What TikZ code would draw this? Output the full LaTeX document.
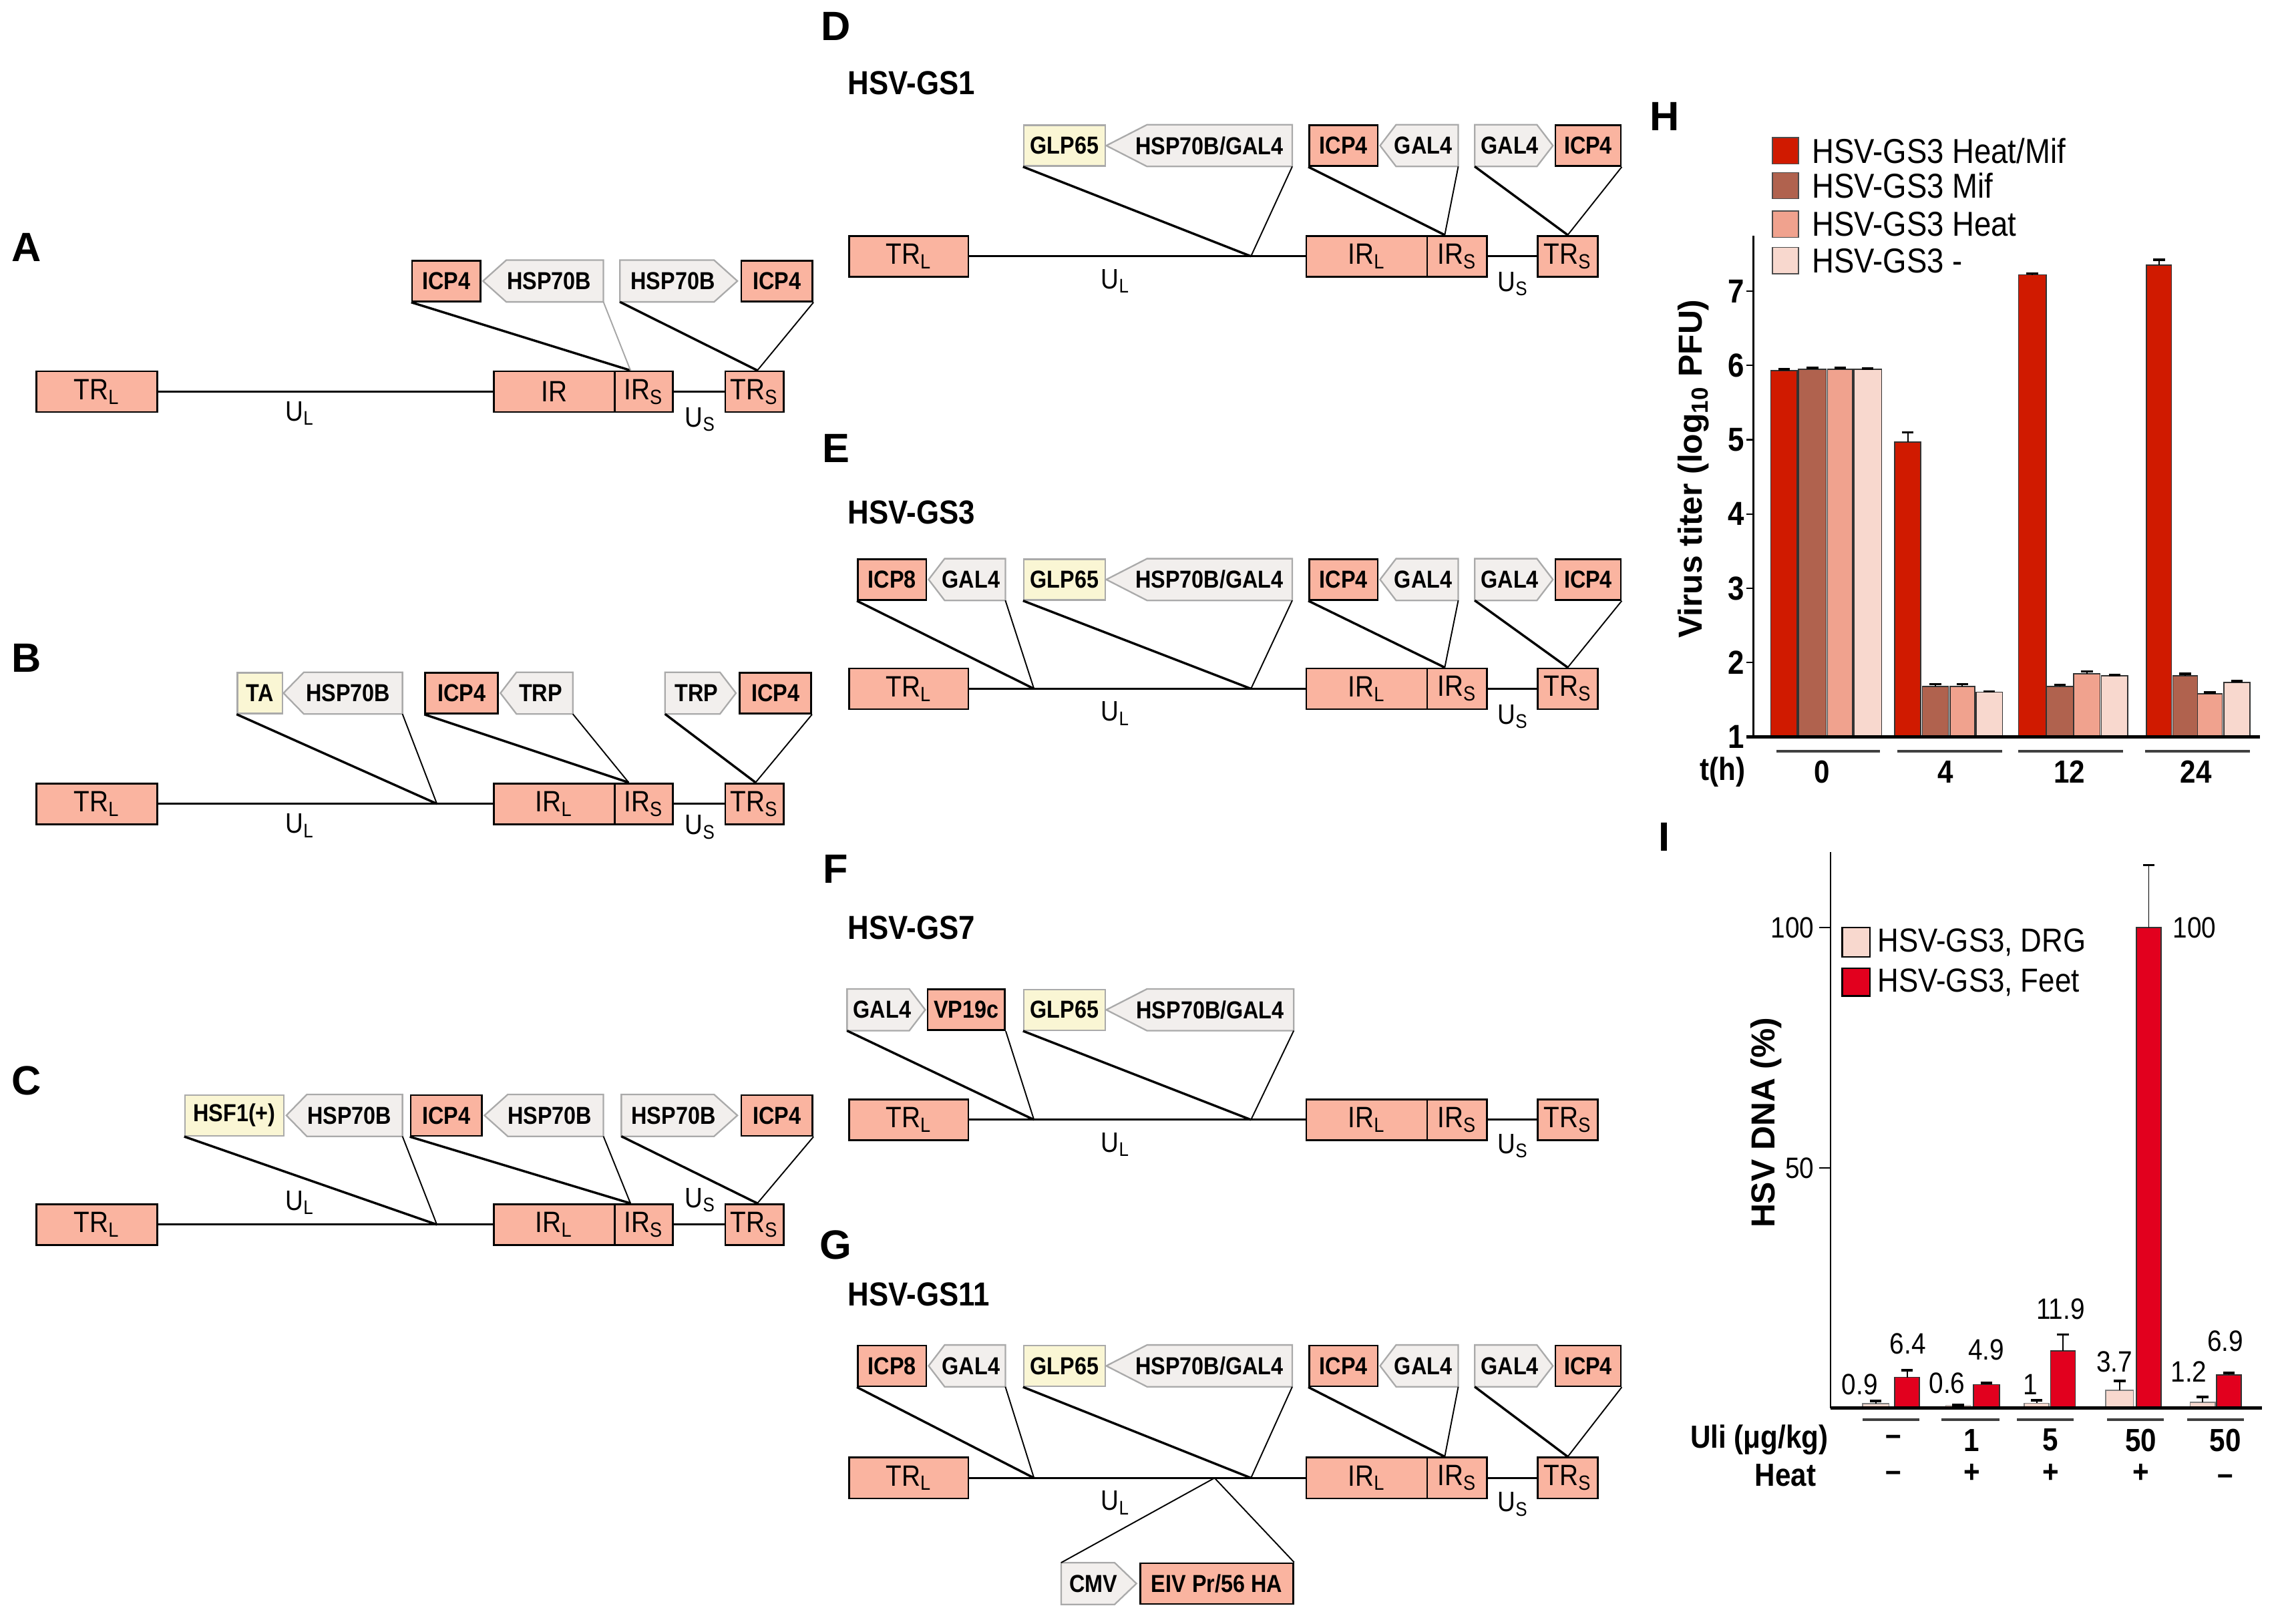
\documentclass[tikz,border=0pt]{standalone}
\usepackage{fontspec}
\setmainfont{Liberation Sans}
\newfontfamily\cf{Liberation Sans}[FakeStretch=0.88]
\usetikzlibrary{calc,backgrounds}
\definecolor{salm}{RGB}{250,180,160}
\definecolor{garf}{RGB}{242,239,237}
\definecolor{garb}{RGB}{170,170,170}
\definecolor{yelf}{RGB}{250,246,212}
\definecolor{hA}{RGB}{208,26,0}
\definecolor{hB}{RGB}{176,98,78}
\definecolor{hC}{RGB}{240,162,142}
\definecolor{hD}{RGB}{248,216,206}
\definecolor{iF}{RGB}{226,0,30}
\newcommand{\fs}[1]{\fontsize{#1}{#1}\selectfont}
\newdimen\myhu \myhu=0.01cm
\tikzset{
  boxbase/.style={inner sep=0pt, minimum height=0.56cm},
  sal/.style={boxbase, fill=salm, draw=black, line width=0.7pt, font=\cf\bfseries\fs{9.6}},
  yel/.style={boxbase, fill=yelf, draw=garb, line width=0.6pt, font=\cf\bfseries\fs{9.6}},
  gen/.style={boxbase, fill=salm, draw=black, line width=0.7pt, font=\cf\fs{11.5}},
  garr/.style={boxbase, font=\cf\bfseries\fs{9.6}},
  garrpath/.style={fill=garf, draw=garb, line width=0.6pt},
  gline/.style={line width=0.75pt},
  cthick/.style={line width=0.9pt},
  cthin/.style={line width=0.5pt},
  cgray/.style={line width=0.5pt, draw=gray!70},
  ulab/.style={font=\cf\fs{11}, inner sep=0pt},
  plab/.style={font=\bfseries\fs{16}, inner sep=0pt},
  glab/.style={font=\cf\bfseries\fs{13}, inner sep=0pt, anchor=west},
  legt/.style={font=\cf\fs{13.5}, inner sep=0pt, anchor=west},
  tickb/.style={font=\cf\bfseries\fs{13}, inner sep=0pt, anchor=east},
  tickr/.style={font=\cf\fs{11.5}, inner sep=0pt, anchor=east},
  valt/.style={font=\cf\fs{11.5}, inner sep=0pt},
  grpt/.style={font=\cf\bfseries\fs{12.5}, inner sep=0pt},
  axl/.style={line width=0.6pt},
  basel/.style={line width=1.3pt},
  undl/.style={line width=1pt, draw=black!75},
}
\newcommand{\gbox}[6]{\node[#1, minimum width={(#4-#3)*0.02cm}] (#2) at ({(#3+#4)/2},#5) {#6};}
\newcommand{\arrL}[6]{\node[garr, minimum width={(#3-#2)*0.02cm}] (#1) at ({(#2+#3)/2},#4) {\hspace*{#5\myhu}#6};
 \begin{scope}[on background layer]\path[garrpath] ($(#1.north west)+(#5,0)$) -- (#1.north east) -- (#1.south east) -- ($(#1.south west)+(#5,0)$) -- (#1.west) -- cycle;\end{scope}}
\newcommand{\arrR}[6]{\node[garr, minimum width={(#3-#2)*0.02cm}] (#1) at ({(#2+#3)/2},#4) {#6\hspace*{#5\myhu}};
 \begin{scope}[on background layer]\path[garrpath] (#1.north west) -- ($(#1.north east)-(#5,0)$) -- (#1.east) -- ($(#1.south east)-(#5,0)$) -- (#1.south west) -- cycle;\end{scope}}
\newcommand{\genL}[5]{%
 \gbox{gen}{#1TRL}{25}{108}{#2}{TR\textsubscript{L}}
 \gbox{gen}{#1IRL}{339}{422}{#2}{#3}
 \gbox{gen}{#1IRS}{422}{462}{#2}{IR\textsubscript{S}}
 \gbox{gen}{#1TRS}{498}{538}{#2}{TR\textsubscript{S}}
 \draw[gline] (#1TRL.east) -- (#1IRL.west);
 \draw[gline] (#1IRS.east) -- (#1TRS.west);
 \node[ulab] (#1UL) at (206,#4) {U\textsubscript{L}};
 \node[ulab] (#1US) at (481,#5) {U\textsubscript{S}};}
\newcommand{\genR}[4]{%
 \gbox{gen}{#1TRL}{583}{665}{#2}{TR\textsubscript{L}}
 \gbox{gen}{#1IRL}{897}{980}{#2}{IR\textsubscript{L}}
 \gbox{gen}{#1IRS}{980}{1021}{#2}{IR\textsubscript{S}}
 \gbox{gen}{#1TRS}{1056}{1097}{#2}{TR\textsubscript{S}}
 \draw[gline] (#1TRL.east) -- (#1IRL.west);
 \draw[gline] (#1IRS.east) -- (#1TRS.west);
 \node[ulab] (#1UL) at (766,#3) {U\textsubscript{L}};
 \node[ulab] (#1US) at (1039,#4) {U\textsubscript{S}};}
\newcommand{\hb}[5]{%
 \filldraw[fill=#4, draw=black!80, line width=0.4pt] (#1,506) rectangle (#2,{506-(#3-1)*51});
 \draw[line width=0.5pt] ({(#1+#2)/2},{506-(#3-1)*51}) -- ({(#1+#2)/2},{506-(#5-1)*51});
 \draw[line width=1pt] ({(#1+#2)/2-4},{506-(#5-1)*51}) -- ({(#1+#2)/2+4},{506-(#5-1)*51});}
\newcommand{\ib}[6]{%
 \filldraw[fill=#4, draw=#6, line width=0.4pt] (#1,967) rectangle (#2,{967-#3*3.3});
 \draw[line width=0.5pt] ({(#1+#2)/2},{967-#3*3.3}) -- ({(#1+#2)/2},{967-#5*3.3});
 \draw[line width=1pt] ({(#1+#2)/2-4},{967-#5*3.3}) -- ({(#1+#2)/2+4},{967-#5*3.3});}
\begin{document}
\begin{tikzpicture}[x=0.02cm, y=-0.02cm]
\begin{scope}[on background layer]
\fill[white] (0,0) rectangle (1567,1115);
\end{scope}
\useasboundingbox (0,0) rectangle (1567,1115);

% panel letters
\node[plab] (lA) at (18,170) {A};
\node[plab] (lB) at (18,452) {B};
\node[plab] (lC) at (18,742) {C};
\node[plab] (lD) at (574,18) {D};
\node[plab] (lE) at (574,308) {E};
\node[plab] (lF) at (574,597) {F};
\node[plab] (lG) at (574,855) {G};
\node[plab] (lH) at (1143,80) {H};
\node[plab] (lI) at (1143,575) {I};

% ---------- A
\genL{a}{269}{IR}{284}{288}
\gbox{sal}{aI1}{283}{330}{193}{ICP4}
\arrL{aH1}{332}{414}{193}{16}{HSP70B}
\arrR{aH2}{426}{506}{193}{16}{HSP70B}
\gbox{sal}{aI2}{509}{558}{193}{ICP4}
\coordinate (aj2) at ($(aIRS.north west)!0.28!(aIRS.north east)$);
\coordinate (aj3) at ($(aTRS.north west)!0.55!(aTRS.north east)$);
\draw[cthick] (aI1.south west) -- (aj2);
\draw[cgray] (aH1.south east) -- (aj2);
\draw[cthick] (aH2.south west) -- (aj3);
\draw[cthin] (aI2.south east) -- (aj3);

% ---------- B
\genL{b}{552}{IR\textsubscript{L}}{567}{568}
\gbox{yel}{bTA}{163}{194}{476}{TA}
\arrL{bH}{195}{276}{476}{14}{HSP70B}
\gbox{sal}{bI1}{292}{342}{476}{ICP4}
\arrL{bT1}{344}{393}{476}{11}{TRP}
\arrR{bT2}{457}{505}{476}{11}{TRP}
\gbox{sal}{bI2}{508}{557}{476}{ICP4}
\coordinate (bj1) at (300,552);
\coordinate (bj2) at ($(bIRS.north west)!0.25!(bIRS.north east)$);
\coordinate (bj3) at ($(bTRS.north west)!0.52!(bTRS.north east)$);
\draw[cthick] (bTA.south west) -- (bj1);
\draw[cthin] (bH.south east) -- (bj1);
\draw[cthick] (bI1.south west) -- (bj2);
\draw[cthin] (bT1.south east) -- (bj2);
\draw[cthick] (bT2.south west) -- (bj3);
\draw[cthin] (bI2.south east) -- (bj3);

% ---------- C
\genL{c}{841}{IR\textsubscript{L}}{826}{824}
\gbox{yel}{cHSF}{127}{195}{766}{HSF1(+)}
\arrL{cH1}{197}{276}{766}{14}{HSP70B}
\gbox{sal}{cI1}{282}{331}{766}{ICP4}
\arrL{cH2}{333}{414}{766}{16}{HSP70B}
\arrR{cH3}{427}{506}{766}{16}{HSP70B}
\gbox{sal}{cI2}{509}{558}{766}{ICP4}
\coordinate (cj1) at (300,841);
\coordinate (cj2) at ($(cIRS.north west)!0.28!(cIRS.north east)$);
\coordinate (cj3) at ($(cTRS.north west)!0.55!(cTRS.north east)$);
\draw[cthick] (cHSF.south west) -- (cj1);
\draw[cthin] (cH1.south east) -- (cj1);
\draw[cthick] (cI1.south west) -- (cj2);
\draw[cthin] (cH2.south east) -- (cj2);
\draw[cthick] (cH3.south west) -- (cj3);
\draw[cthin] (cI2.south east) -- (cj3);

% ---------- D
\node[glab] (dN) at (582,57) {HSV-GS1};
\genR{d}{176}{193}{195}
\gbox{yel}{dG}{703}{759}{100}{GLP65}
\arrL{dH}{760}{887}{100}{28}{HSP70B/GAL4}
\gbox{sal}{dI1}{899}{946}{100}{ICP4}
\arrL{dA1}{948}{1001}{100}{11}{GAL4}
\arrR{dA2}{1013}{1066}{100}{11}{GAL4}
\gbox{sal}{dI2}{1068}{1113}{100}{ICP4}
\coordinate (dj1) at (859,176);
\coordinate (dj2) at ($(dIRS.north west)!0.3!(dIRS.north east)$);
\coordinate (dj3) at ($(dTRS.north west)!0.5!(dTRS.north east)$);
\draw[cthick] (dG.south west) -- (dj1);
\draw[cthin] (dH.south east) -- (dj1);
\draw[cthick] (dI1.south west) -- (dj2);
\draw[cthin] (dA1.south east) -- (dj2);
\draw[cthick] (dA2.south west) -- (dj3);
\draw[cthin] (dI2.south east) -- (dj3);

% ---------- E
\node[glab] (eN) at (582,352) {HSV-GS3};
\genR{e}{473}{490}{492}
\gbox{sal}{eI8}{589}{636}{398}{ICP8}
\arrL{eA0}{638}{690}{398}{11}{GAL4}
\gbox{yel}{eG}{703}{759}{398}{GLP65}
\arrL{eH}{760}{887}{398}{28}{HSP70B/GAL4}
\gbox{sal}{eI1}{899}{946}{398}{ICP4}
\arrL{eA1}{948}{1001}{398}{11}{GAL4}
\arrR{eA2}{1013}{1066}{398}{11}{GAL4}
\gbox{sal}{eI2}{1068}{1113}{398}{ICP4}
\coordinate (ej0) at (710,473);
\coordinate (ej1) at (859,473);
\coordinate (ej2) at ($(eIRS.north west)!0.3!(eIRS.north east)$);
\coordinate (ej3) at ($(eTRS.north west)!0.5!(eTRS.north east)$);
\draw[cthick] (eI8.south west) -- (ej0);
\draw[cthin] (eA0.south east) -- (ej0);
\draw[cthick] (eG.south west) -- (ej1);
\draw[cthin] (eH.south east) -- (ej1);
\draw[cthick] (eI1.south west) -- (ej2);
\draw[cthin] (eA1.south east) -- (ej2);
\draw[cthick] (eA2.south west) -- (ej3);
\draw[cthin] (eI2.south east) -- (ej3);

% ---------- F
\node[glab] (fN) at (582,637) {HSV-GS7};
\genR{f}{769}{786}{787}
\arrR{fA}{582}{635}{693.5}{11}{GAL4}
\gbox{sal}{fV}{637}{690}{693.5}{VP19c}
\gbox{yel}{fG}{703}{759}{693.5}{GLP65}
\arrL{fH}{760}{888}{693.5}{28}{HSP70B/GAL4}
\coordinate (fj0) at (710,769);
\coordinate (fj1) at (859,769);
\draw[cthick] (fA.south west) -- (fj0);
\draw[cthin] (fV.south east) -- (fj0);
\draw[cthick] (fG.south west) -- (fj1);
\draw[cthin] (fH.south east) -- (fj1);

% ---------- G
\node[glab] (gN) at (582,889) {HSV-GS11};
\genR{g}{1015}{1032}{1033}
\gbox{sal}{gI8}{589}{636}{938}{ICP8}
\arrL{gA0}{638}{690}{938}{11}{GAL4}
\gbox{yel}{gG}{703}{759}{938}{GLP65}
\arrL{gH}{760}{887}{938}{28}{HSP70B/GAL4}
\gbox{sal}{gI1}{899}{946}{938}{ICP4}
\arrL{gA1}{948}{1001}{938}{11}{GAL4}
\arrR{gA2}{1013}{1066}{938}{11}{GAL4}
\gbox{sal}{gI2}{1068}{1113}{938}{ICP4}
\arrR{gC}{729}{780}{1087.5}{15}{CMV}
\gbox{sal}{gE}{783}{888}{1087.5}{EIV Pr/56 HA}
\coordinate (gj0) at (710,1015);
\coordinate (gj1) at (859,1015);
\coordinate (gj5) at (834,1015);
\coordinate (gj2) at ($(gIRS.north west)!0.3!(gIRS.north east)$);
\coordinate (gj3) at ($(gTRS.north west)!0.5!(gTRS.north east)$);
\draw[cthick] (gI8.south west) -- (gj0);
\draw[cthin] (gA0.south east) -- (gj0);
\draw[cthick] (gG.south west) -- (gj1);
\draw[cthin] (gH.south east) -- (gj1);
\draw[cthick] (gI1.south west) -- (gj2);
\draw[cthin] (gA1.south east) -- (gj2);
\draw[cthick] (gA2.south west) -- (gj3);
\draw[cthin] (gI2.south east) -- (gj3);
\draw[cthin] (gj5) -- (gC.north west);
\draw[cthin] (gj5) -- (gE.north east);

% ---------- H chart
\filldraw[fill=hA, draw=black!70, line width=0.4pt] (1217,94.5) rectangle (1235,112.5);
\filldraw[fill=hB, draw=black!70, line width=0.4pt] (1217,118.5) rectangle (1235,136.5);
\filldraw[fill=hC, draw=black!70, line width=0.4pt] (1217,145) rectangle (1235,163);
\filldraw[fill=hD, draw=black!70, line width=0.4pt] (1217,170) rectangle (1235,188);
\node[legt] (hl1) at (1244,103.5) {HSV-GS3 Heat/Mif};
\node[legt] (hl2) at (1244,127.5) {HSV-GS3 Mif};
\node[legt] (hl3) at (1244,154) {HSV-GS3 Heat};
\node[legt] (hl4) at (1244,179) {HSV-GS3 -};

\hb{1216}{1234}{5.93}{hA}{5.95}
\hb{1235}{1254}{5.95}{hB}{5.97}
\hb{1255}{1272}{5.95}{hC}{5.97}
\hb{1273}{1292}{5.95}{hD}{5.96}
\hb{1301}{1319}{4.97}{hA}{5.1}
\hb{1320}{1338}{1.68}{hB}{1.71}
\hb{1339}{1356}{1.68}{hC}{1.71}
\hb{1357}{1375}{1.60}{hD}{1.61}
\hb{1386}{1405}{7.22}{hA}{7.24}
\hb{1405}{1424}{1.68}{hB}{1.70}
\hb{1424}{1442}{1.85}{hC}{1.88}
\hb{1443}{1461}{1.82}{hD}{1.83}
\hb{1474}{1491}{7.35}{hA}{7.42}
\hb{1492}{1509}{1.82}{hB}{1.85}
\hb{1509}{1526}{1.58}{hC}{1.60}
\hb{1527}{1545}{1.73}{hD}{1.75}

\draw[axl] (1204,162) -- (1204,506);
\draw[basel] (1199,506) -- (1552,506);
\foreach \v in {2,...,7} {\draw[axl] (1199,{506-(\v-1)*51}) -- (1204,{506-(\v-1)*51});}
\foreach \v in {1,...,7} {\node[tickb] (ht\v) at (1198,{506-(\v-1)*51}) {\v};}
\node[rotate=90, font=\bfseries\fs{13}, inner sep=0pt] (hy) at (1163,322) {Virus titer (log\textsubscript{10} PFU)};
\draw[undl] (1220,516) -- (1291,516);
\draw[undl] (1303,516) -- (1375,516);
\draw[undl] (1386,516) -- (1458,516);
\draw[undl] (1473,516) -- (1545,516);
\node[grpt] (hth) at (1183,530) {t(h)};
\node[grpt] (hg0) at (1251,530) {0};
\node[grpt] (hg4) at (1336,530) {4};
\node[grpt] (hg12) at (1421,530) {12};
\node[grpt] (hg24) at (1508,530) {24};

% ---------- I chart
\filldraw[fill=hD, draw=black, line width=0.6pt] (1265,637) rectangle (1284,657);
\filldraw[fill=iF, draw=black, line width=0.6pt] (1265,665) rectangle (1284,684);
\node[font=\cf\fs{13}, inner sep=0pt, anchor=west] (il1) at (1289,647) {HSV-GS3, DRG};
\node[font=\cf\fs{13}, inner sep=0pt, anchor=west] (il2) at (1289,674.5) {HSV-GS3, Feet};

\ib{1279}{1297}{0.9}{hD}{1.5}{gray}
\ib{1301}{1318}{6.4}{iF}{7.9}{black!80}
\ib{1336}{1353}{0.6}{hD}{0.6}{gray!60}
\ib{1355}{1373}{4.9}{iF}{5.2}{black!80}
\ib{1390}{1407}{1}{hD}{1.6}{gray}
\ib{1408}{1425}{11.9}{iF}{15.3}{black!80}
\ib{1446}{1465}{3.7}{hD}{5.7}{gray}
\ib{1467}{1484}{100}{iF}{113}{black!80}
\ib{1504}{1521}{1.2}{hD}{2.3}{gray}
\ib{1522}{1539}{6.9}{iF}{7.3}{black!80}

\draw[axl] (1257,585) -- (1257,967);
\draw[basel] (1257,967) -- (1553,967);
\draw[axl] (1249,637) -- (1257,637);
\draw[axl] (1249,802) -- (1257,802);
\node[tickr] (it100) at (1246,637) {100};
\node[tickr] (it50) at (1246,802) {50};
\node[rotate=90, font=\bfseries\fs{13}, inner sep=0pt] (iy) at (1213,771) {HSV DNA (\%)};

\node[valt] (iv1) at (1277,951) {0.9};
\node[valt] (iv2) at (1310,923) {6.4};
\node[valt] (iv3) at (1337,950) {0.6};
\node[valt] (iv4) at (1364,927) {4.9};
\node[valt] (iv5) at (1394,951) {1};
\node[valt] (iv6) at (1415,899) {11.9};
\node[valt] (iv7) at (1452,935) {3.7};
\node[valt] (iv8) at (1503,942) {1.2};
\node[valt] (iv9) at (1528,921) {6.9};
\node[valt] (iv10) at (1507,637) {100};

\draw[undl] (1279,975) -- (1318,975);
\draw[undl] (1333,975) -- (1373,975);
\draw[undl] (1385,975) -- (1424,975);
\draw[undl] (1447,975) -- (1486,975);
\draw[undl] (1502,975) -- (1541,975);
\node[grpt] (iu) at (1208,989) {Uli (μg/kg)};
\node[grpt] (ih) at (1226,1013) {Heat};
\node[grpt] (iu1) at (1300,989) {–};
\node[grpt] (iu2) at (1354,989) {1};
\node[grpt] (iu3) at (1408,989) {5};
\node[grpt] (iu4) at (1470,989) {50};
\node[grpt] (iu5) at (1528,989) {50};
\node[grpt] (ih1) at (1300,1014) {–};
\node[grpt] (ih2) at (1354,1012) {+};
\node[grpt] (ih3) at (1408,1012) {+};
\node[grpt] (ih4) at (1470,1012) {+};
\node[grpt] (ih5) at (1528,1016) {–};
\end{tikzpicture}
\end{document}
